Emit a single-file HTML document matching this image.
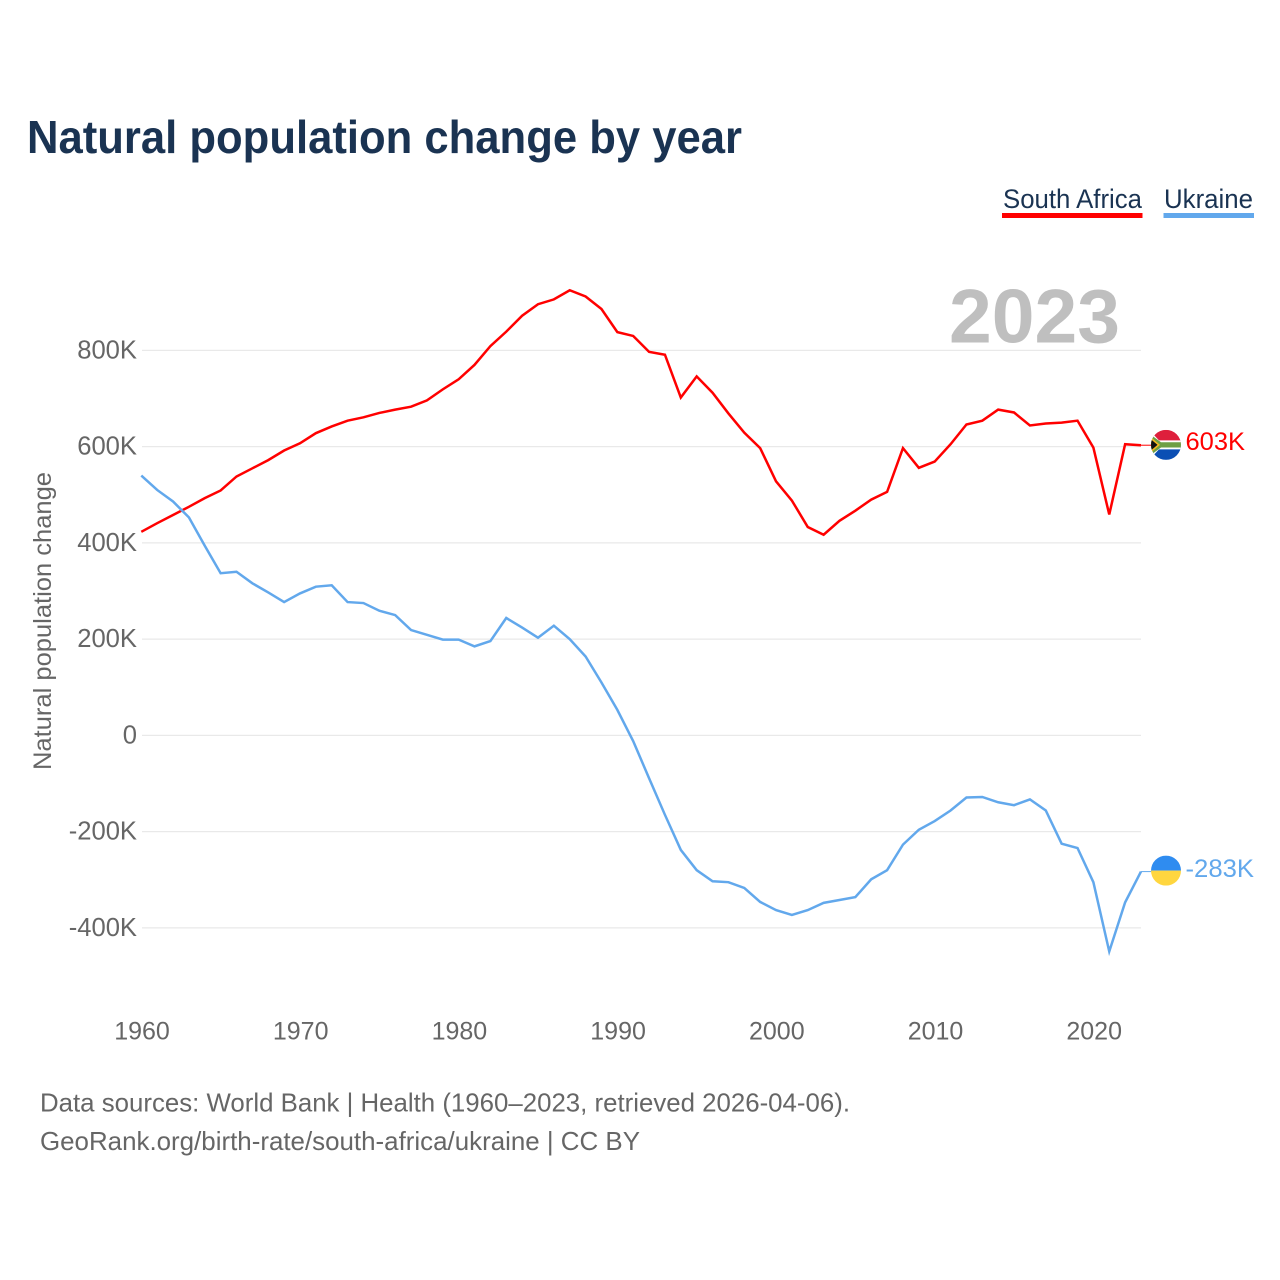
<!DOCTYPE html>
<html lang="en">
<head>
<meta charset="utf-8">
<title>Natural population change by year</title>
<style>
html,body{margin:0;padding:0;background:#fff;}
svg{display:block;font-family:"Liberation Sans",sans-serif;}
</style>
</head>
<body>
<svg id="chart" xmlns="http://www.w3.org/2000/svg" width="1280" height="1280" viewBox="0 0 1280 1280">
  <defs>
    <clipPath id="flag-clip"><circle cx="0" cy="0" r="15"/></clipPath>
  </defs>
  <rect x="0" y="0" width="1280" height="1280" fill="#fff"/>
  <text x="27" y="153" font-size="46" font-weight="700" fill="#1a3352" textLength="715" lengthAdjust="spacingAndGlyphs">Natural population change by year</text>

  <g>
    <g>
      <text x="1003" y="208" font-size="27" fill="#1a3352" textLength="139" lengthAdjust="spacingAndGlyphs">South Africa</text>
      <rect x="1002" y="213" width="140.500" height="5" fill="#ff0000"/>
    </g>
    <g>
      <text x="1164" y="208" font-size="27" fill="#1a3352" textLength="89" lengthAdjust="spacingAndGlyphs">Ukraine</text>
      <rect x="1163.500" y="213" width="90.500" height="5" fill="#62a8ec"/>
    </g>
  </g>

  <text x="949" y="342.500" font-size="76" font-weight="700" fill="#bfbfbf" textLength="171" lengthAdjust="spacingAndGlyphs">2023</text>

  <g id="grid"></g>
  <g id="y-axis"></g>
  <g id="x-axis"></g>

  <text transform="translate(51,621) rotate(-90)" text-anchor="middle" font-size="25" fill="#666666" textLength="298" lengthAdjust="spacingAndGlyphs">Natural population change</text>

  <g id="series"></g>

  <g id="flag-za">
    <g clip-path="url(#flag-clip)">
      <rect x="-15" y="-15" width="30" height="15" fill="#de1f3c"/>
      <rect x="-15" y="0" width="30" height="15" fill="#0b4fb4"/>
      <polygon points="-15,-13 -7,-4.500 15,-4.500 15,4.500 -7,4.500 -15,13" fill="#ffffff"/>
      <polygon points="-15,-10 -5,-2.600 15,-2.600 15,2.600 -5,2.600 -15,10" fill="#6f9f45"/>
      <polygon points="-15,-7.500 -6,0 -15,7.500" fill="#f5b921"/>
      <polygon points="-15,-5.500 -8.500,0 -15,5.500" fill="#111111"/>
    </g>
  </g>
  <g id="flag-ua">
    <g clip-path="url(#flag-clip)">
      <rect x="-15" y="-15" width="30" height="15" fill="#2f8cf0"/>
      <rect x="-15" y="0" width="30" height="15" fill="#ffd63f"/>
    </g>
  </g>

  <text id="label-za" x="1185.500" font-size="25" fill="#ff0000" textLength="59.500" lengthAdjust="spacingAndGlyphs"></text>
  <text id="label-ua" x="1185.500" font-size="25" fill="#62a8ec" textLength="68.500" lengthAdjust="spacingAndGlyphs"></text>

  <g>
    <text x="40" y="1111.500" font-size="26" fill="#666666" textLength="810" lengthAdjust="spacingAndGlyphs">Data sources: World Bank | Health (1960–2023, retrieved 2026-04-06).</text>
    <text x="40" y="1150" font-size="26" fill="#666666" textLength="600" lengthAdjust="spacingAndGlyphs">GeoRank.org/birth-rate/south-africa/ukraine | CC BY</text>
  </g>
</svg>
<script>
var years = [1960,1961,1962,1963,1964,1965,1966,1967,1968,1969,1970,1971,1972,1973,1974,1975,1976,1977,1978,1979,1980,1981,1982,1983,1984,1985,1986,1987,1988,1989,1990,1991,1992,1993,1994,1995,1996,1997,1998,1999,2000,2001,2002,2003,2004,2005,2006,2007,2008,2009,2010,2011,2012,2013,2014,2015,2016,2017,2018,2019,2020,2021,2022,2023];
var southAfrica = [423,441,458,475,493,509,538,555,572,592,607,628,642,654,661,670,677,683,696,719,740,770,809,839,872,896,906,925,912,886,838,830,797,791,702,746,712,669,629,597,528,488,433,417,446,467,490,506,597,556,569,605,646,654,677,671,644,648,650,654,598,459,605,603];
var ukraine = [540,510,486,453,394,337,340,316,297,277,295,309,312,277,275,259,250,219,209,199,199,185,196,244,224,203,228,200,164,110,53,-12,-89,-165,-238,-280,-303,-305,-317,-346,-363,-373,-363,-348,-342,-336,-299,-280,-227,-196,-178,-156,-129,-128,-139,-145,-133,-156,-225,-234,-305,-449,-347,-283];
var yTicks = [800,600,400,200,0,-200,-400];
var yTickLabels = ['800K','600K','400K','200K','0','-200K','-400K'];
var xTicks = [1960,1970,1980,1990,2000,2010,2020];
var endLabels = ['603K','-283K'];

var NS = 'http://www.w3.org/2000/svg';
function xScale(year){ return 141.3 + (year - 1960) * 15.868; }
function tickX(year){ return 142 + (year - 1960) * 15.87; }
function yScale(v){ return 735.4 - v * 0.48125; }
function make(tag, parent, attrs){
  var el = document.createElementNS(NS, tag);
  for (var k in attrs) el.setAttribute(k, attrs[k]);
  parent.appendChild(el);
  return el;
}

var grid = document.getElementById('grid');
var yAxis = document.getElementById('y-axis');
var xAxis = document.getElementById('x-axis');
var seriesGroup = document.getElementById('series');

yTicks.forEach(function(v, i){
  var line = make('line', grid, {x1:142, x2:1141, y1:yScale(v), y2:yScale(v), stroke:'#e9e9e9', 'stroke-width':1.3});
  
  
  var t = make('text', yAxis, {x:137, y:yScale(v) + 8, 'text-anchor':'end', 'font-size':25.6, fill:'#666666'});
  
  
  t.textContent = yTickLabels[i];
});

xTicks.forEach(function(year){
  var t = make('text', xAxis, {x:tickX(year), y:1039.500, 'text-anchor':'middle', 'font-size':25, fill:'#666666'});
  
  
  t.textContent = year;
});

function linePoints(values){
  return values.map(function(v, i){ return xScale(years[i]).toFixed(2) + ',' + yScale(v).toFixed(2); }).join(' ');
}

var zaLine = make('polyline', seriesGroup, {points:linePoints(southAfrica), fill:'none', stroke:'#ff0000', 'stroke-width':2.5, 'stroke-linejoin':'miter'});


var uaLine = make('polyline', seriesGroup, {points:linePoints(ukraine), fill:'none', stroke:'#62a8ec', 'stroke-width':2.5, 'stroke-linejoin':'miter'});



var zaLast = yScale(southAfrica[southAfrica.length - 1]);
var uaLast = yScale(ukraine[ukraine.length - 1]);
var lastX = xScale(years[years.length - 1]);

var zaLink = make('line', seriesGroup, {x1:lastX, x2:1152, y1:zaLast, y2:zaLast, stroke:'#ff0000', 'stroke-width':1});


var uaLink = make('line', seriesGroup, {x1:lastX, x2:1152, y1:uaLast, y2:uaLast, stroke:'#62a8ec', 'stroke-width':1});



document.getElementById('flag-za').setAttribute('transform', 'translate(1166,' + (zaLast - 0.3) + ')');
document.getElementById('flag-ua').setAttribute('transform', 'translate(1166,' + (uaLast - 1) + ')');

var labelZa = document.getElementById('label-za');
labelZa.setAttribute('y', zaLast + 5);
labelZa.textContent = endLabels[0];
var labelUa = document.getElementById('label-ua');
labelUa.setAttribute('y', uaLast + 5.5);
labelUa.textContent = endLabels[1];
</script>
</body>
</html>
